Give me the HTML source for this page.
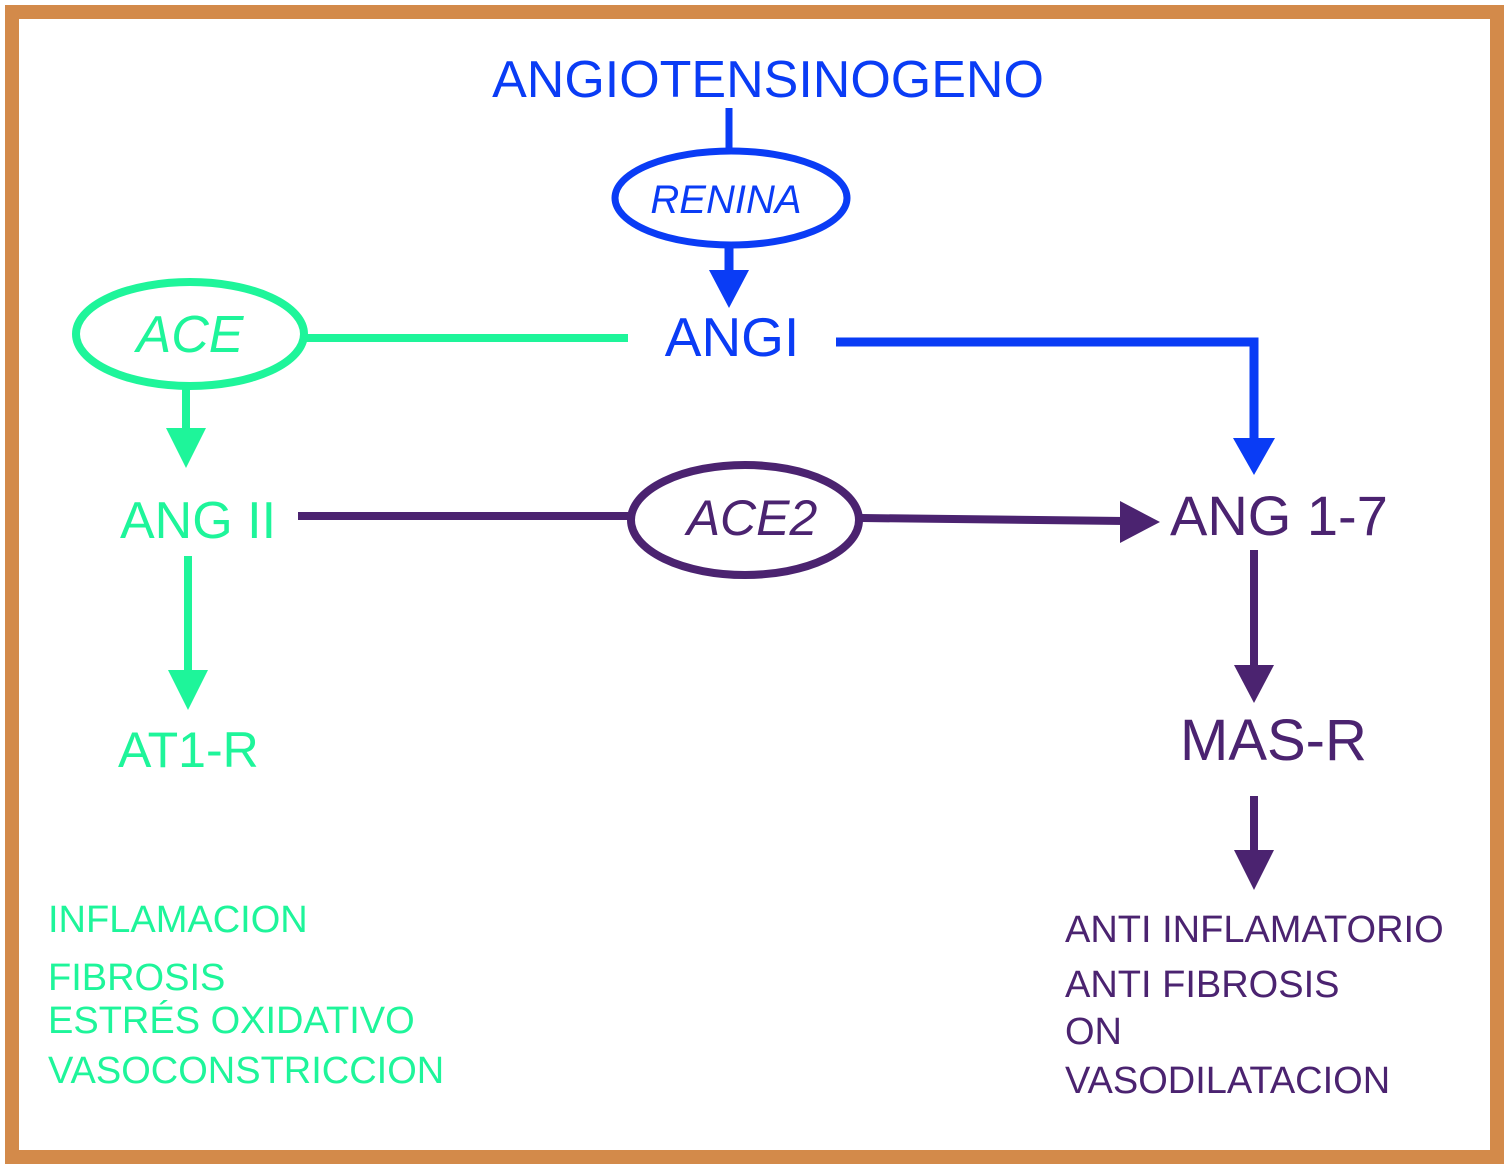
<!DOCTYPE html>
<html><head><style>
html,body{margin:0;padding:0;background:#fff;}
svg{display:block;}
text{font-family:"Liberation Sans",sans-serif;}
</style></head><body>
<svg width="1508" height="1170" viewBox="0 0 1508 1170">
<rect x="0" y="0" width="1508" height="1170" fill="#fff"/>
<rect x="12" y="12" width="1485" height="1145" fill="none" stroke="#d38a4a" stroke-width="14"/>
<!-- blue -->
<g fill="none" stroke="#0a3cf5" stroke-width="7">
<line x1="729" y1="108" x2="729" y2="150"/>
<ellipse cx="731" cy="198" rx="116" ry="47"/>
</g>
<g stroke="#0a3cf5" stroke-width="9" fill="none">
<line x1="729" y1="246" x2="729" y2="275"/>
<polyline points="836,342 1254,342 1254,445"/>
</g>
<polygon points="709,270 749,270 729,308" fill="#0a3cf5"/>
<polygon points="1233,438 1275,438 1254,475" fill="#0a3cf5"/>
<text x="768" y="97" font-size="52" fill="#0a3cf5" text-anchor="middle">ANGIOTENSINOGENO</text>
<text x="726" y="213" font-size="40" font-style="italic" fill="#0a3cf5" text-anchor="middle">RENINA</text>
<text x="732" y="356" font-size="55" fill="#0a3cf5" text-anchor="middle">ANGI</text>
<!-- green -->
<g fill="none" stroke="#1ef59a" stroke-width="8">
<ellipse cx="190" cy="334" rx="114" ry="52"/>
<line x1="305" y1="338" x2="628" y2="338"/>
<line x1="186" y1="386" x2="186" y2="432"/>
<line x1="188" y1="556" x2="188" y2="672"/>
</g>
<polygon points="166,428 206,428 186,468" fill="#1ef59a"/>
<polygon points="168,670 208,670 188,710" fill="#1ef59a"/>
<text x="190" y="352" font-size="52" font-style="italic" fill="#1ef59a" text-anchor="middle">ACE</text>
<text x="120" y="538" font-size="52" fill="#1ef59a">ANG II</text>
<text x="118" y="767" font-size="50" fill="#1ef59a">AT1-R</text>
<g font-size="38" fill="#1ef59a">
<text x="48" y="932">INFLAMACION</text>
<text x="48" y="990">FIBROSIS</text>
<text x="48" y="1033">ESTRÉS OXIDATIVO</text>
<text x="48" y="1083">VASOCONSTRICCION</text>
</g>
<!-- purple -->
<g fill="none" stroke="#4b2370" stroke-width="8">
<line x1="298" y1="516" x2="630" y2="516"/>
<ellipse cx="745" cy="520" rx="114" ry="55"/>
<line x1="862" y1="518" x2="1125" y2="521"/>
<line x1="1254" y1="550" x2="1254" y2="668"/>
<line x1="1254" y1="796" x2="1254" y2="852"/>
</g>
<polygon points="1120,501 1160,522 1120,543" fill="#4b2370"/>
<polygon points="1234,665 1274,665 1254,703" fill="#4b2370"/>
<polygon points="1234,850 1274,850 1254,890" fill="#4b2370"/>
<text x="752" y="535" font-size="50" font-style="italic" fill="#4b2370" text-anchor="middle">ACE2</text>
<text x="1170" y="535" font-size="56" fill="#4b2370">ANG 1-7</text>
<text x="1180" y="760" font-size="58" fill="#4b2370">MAS-R</text>
<g font-size="38" fill="#4b2370">
<text x="1065" y="942">ANTI INFLAMATORIO</text>
<text x="1065" y="997">ANTI FIBROSIS</text>
<text x="1065" y="1044">ON</text>
<text x="1065" y="1093">VASODILATACION</text>
</g>
</svg>
</body></html>
